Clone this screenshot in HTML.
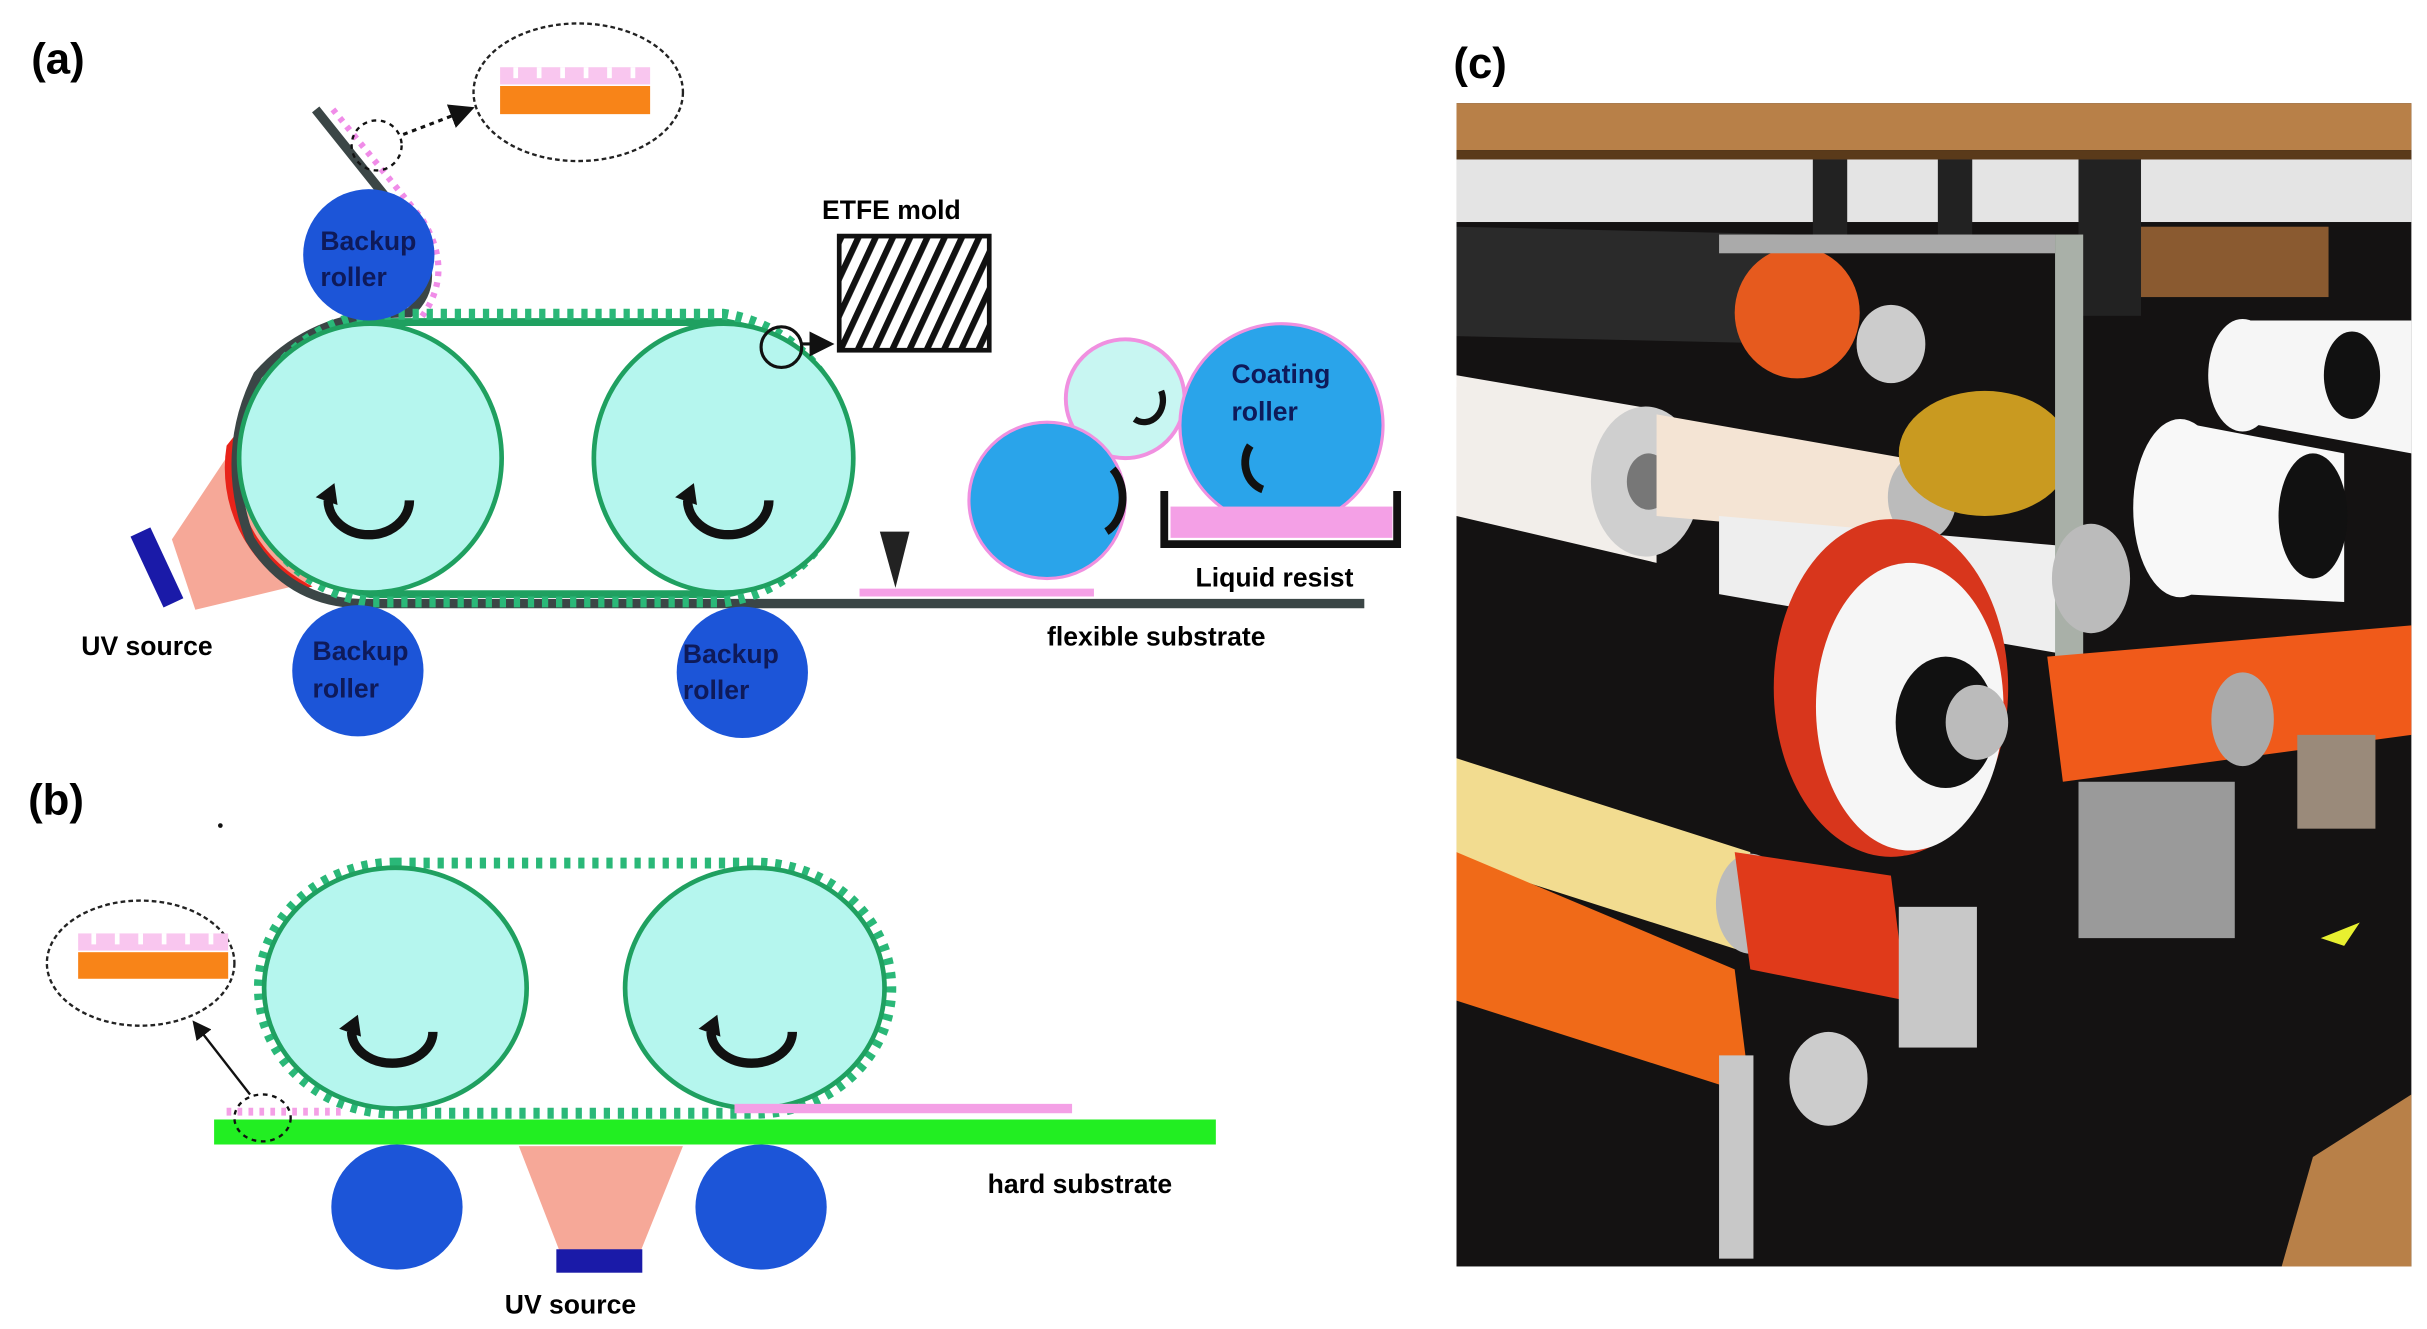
<!DOCTYPE html>
<html><head><meta charset="utf-8"><style>
html,body{margin:0;padding:0;background:#fff;}
svg{display:block;}
text{font-family:"Liberation Sans",sans-serif;font-weight:bold;}
</style></head><body>
<svg width="2427" height="1329" viewBox="0 0 1553 850" preserveAspectRatio="none" xmlns="http://www.w3.org/2000/svg">
<defs>
<pattern id="hatch" width="10" height="10" patternUnits="userSpaceOnUse" patternTransform="rotate(25)">
<rect width="10" height="10" fill="#fff"/><rect width="4" height="10" fill="#111"/></pattern>
<marker id="ah" markerWidth="8" markerHeight="8" refX="6" refY="4" orient="auto"><path d="M0,0 L8,4 L0,8 z" fill="#111"/></marker>
</defs>

<!-- (a) -->
<text x="20" y="47" font-size="28">(a)</text>
<polygon points="110,345 160,270 200,372 125,390" fill="#f6a898"/>
<path d="M153,275 A88,88 0 0 0 200,375 L190,378 A90,90 0 0 1 145,285 z" fill="#e8231a"/>
<rect x="-7" y="-24" width="14" height="50" fill="#1a1aa8" transform="translate(100,362) rotate(-25)"/>
<text x="52" y="419" font-size="17">UV source</text>

<path d="M202,70 L262,145 Q285,180 262,200 Q200,200 165,240 Q140,290 160,345 Q185,385 230,386 L873,386" fill="none" stroke="#3b4646" stroke-width="6"/>
<path d="M213,70 L270,140 Q292,175 268,205" fill="none" stroke="#f08ce8" stroke-width="4" stroke-dasharray="3,4"/>
<path d="M237,206 L463,206 A87,88 0 0 1 463,380 L237,380 A87,88 0 0 1 237,206 z" fill="none" stroke="#1fa060" stroke-width="5"/>
<path d="M237,201 L463,201 A93,93 0 0 1 463,385 L237,385 A93,93 0 0 1 237,201 z" fill="none" stroke="#2ab878" stroke-width="7" stroke-dasharray="4,5"/>
<ellipse cx="237" cy="293" rx="84" ry="86" fill="#b5f6ee" stroke="#1fa060" stroke-width="3"/>
<ellipse cx="463" cy="293" rx="83" ry="86" fill="#b5f6ee" stroke="#1fa060" stroke-width="3"/>
<path d="M210,320 A26,22 0 0 0 262,320" fill="none" stroke="#111" stroke-width="6"/>
<path d="M202,318 L214,309 L216,323 z" fill="#111"/>
<path d="M440,320 A26,22 0 0 0 492,320" fill="none" stroke="#111" stroke-width="6"/>
<path d="M432,318 L444,309 L446,323 z" fill="#111"/>
<line x1="550" y1="379" x2="700" y2="379" stroke="#f4a0e6" stroke-width="5"/>
<polygon points="563,340 582,340 573,376" fill="#222"/>
<circle cx="236" cy="163" r="42" fill="#1c55d8"/>
<circle cx="229" cy="429" r="42" fill="#1c55d8"/>
<circle cx="475" cy="430" r="42" fill="#1c55d8"/>
<g fill="#0e1a5a" font-size="17">
<text x="205" y="160">Backup</text><text x="205" y="183">roller</text>
<text x="200" y="422">Backup</text><text x="200" y="446">roller</text>
<text x="437" y="424">Backup</text><text x="437" y="447">roller</text>
</g>
<circle cx="241" cy="93" r="16" fill="none" stroke="#111" stroke-width="1.5" stroke-dasharray="3,3"/>
<line x1="258" y1="86" x2="300" y2="70" stroke="#111" stroke-width="2" stroke-dasharray="3,3" marker-end="url(#ah)"/>
<ellipse cx="370" cy="59" rx="67" ry="44" fill="#fff" stroke="#222" stroke-width="1.5" stroke-dasharray="3,2"/>
<rect x="320" y="43" width="96" height="11" fill="#f9c6ef"/>
<g stroke="#fff" stroke-width="3"><line x1="330" y1="43" x2="330" y2="50"/><line x1="345" y1="43" x2="345" y2="50"/><line x1="360" y1="43" x2="360" y2="50"/><line x1="375" y1="43" x2="375" y2="50"/><line x1="390" y1="43" x2="390" y2="50"/><line x1="405" y1="43" x2="405" y2="50"/></g>
<rect x="320" y="55" width="96" height="18" fill="#f88418"/>
<text x="526" y="140" font-size="17">ETFE mold</text>
<rect x="537" y="151" width="96" height="73" fill="url(#hatch)" stroke="#111" stroke-width="3"/>
<circle cx="500" cy="222" r="13" fill="none" stroke="#111" stroke-width="2"/>
<line x1="513" y1="220" x2="530" y2="220" stroke="#111" stroke-width="2" marker-end="url(#ah)"/>
<circle cx="720" cy="255" r="38" fill="#c8f6f2" stroke="#f090e0" stroke-width="2.5"/>
<circle cx="670" cy="320" r="50" fill="#2aa4ea" stroke="#f090e0" stroke-width="2"/>
<circle cx="820" cy="272" r="65" fill="#2aa4ea" stroke="#f090e0" stroke-width="2"/>
<path d="M743,250 A12,14 0 0 1 726,268" fill="none" stroke="#111" stroke-width="4"/>
<path d="M712,300 A18,24 0 0 1 708,340" fill="none" stroke="#111" stroke-width="5"/>
<path d="M800,285 A16,18 0 0 0 808,313" fill="none" stroke="#111" stroke-width="5"/>
<text x="788" y="245" font-size="17" fill="#0e1a5a">Coating</text>
<text x="788" y="269" font-size="17" fill="#0e1a5a">roller</text>
<rect x="749" y="324" width="142" height="20" fill="#f4a0e6"/>
<path d="M745,314 L745,348 L894,348 L894,314" fill="none" stroke="#111" stroke-width="5"/>
<text x="765" y="375" font-size="17">Liquid resist</text>
<text x="670" y="413" font-size="17">flexible substrate</text>

<!-- (b) -->
<text x="18" y="521" font-size="28">(b)</text>
<circle cx="141" cy="528" r="1.5" fill="#111"/>
<path d="M253,552 L483,552 A87,80 0 0 1 483,712 L253,712 A87,80 0 0 1 253,552 z" fill="none" stroke="#2ab878" stroke-width="7" stroke-dasharray="4,5"/>
<ellipse cx="253" cy="632" rx="84" ry="77" fill="#b5f6ee" stroke="#1fa060" stroke-width="3"/>
<ellipse cx="483" cy="632" rx="83" ry="77" fill="#b5f6ee" stroke="#1fa060" stroke-width="3"/>
<path d="M225,660 A26,20 0 0 0 277,660" fill="none" stroke="#111" stroke-width="6"/>
<path d="M217,658 L229,649 L231,663 z" fill="#111"/>
<path d="M455,660 A26,20 0 0 0 507,660" fill="none" stroke="#111" stroke-width="6"/>
<path d="M447,658 L459,649 L461,663 z" fill="#111"/>
<rect x="470" y="706" width="216" height="6" fill="#f4a0e6"/>
<line x1="145" y1="711" x2="220" y2="711" stroke="#f4a0e6" stroke-width="5" stroke-dasharray="3,4"/>
<rect x="137" y="716" width="641" height="16" fill="#22ee22"/>
<ellipse cx="254" cy="772" rx="42" ry="40" fill="#1c55d8"/>
<ellipse cx="487" cy="772" rx="42" ry="40" fill="#1c55d8"/>
<polygon points="332,733 437,733 410,800 358,800" fill="#f6a898"/>
<rect x="356" y="799" width="55" height="15" fill="#1a1aa8"/>
<text x="323" y="840" font-size="17">UV source</text>
<text x="632" y="763" font-size="17">hard substrate</text>
<ellipse cx="168" cy="715" rx="18" ry="15" fill="none" stroke="#111" stroke-width="1.5" stroke-dasharray="3,3"/>
<line x1="160" y1="700" x2="125" y2="655" stroke="#111" stroke-width="1.5" marker-end="url(#ah)"/>
<ellipse cx="90" cy="616" rx="60" ry="40" fill="#fff" stroke="#222" stroke-width="1.5" stroke-dasharray="3,2"/>
<rect x="50" y="597" width="96" height="11" fill="#f9c6ef"/>
<g stroke="#fff" stroke-width="3"><line x1="60" y1="597" x2="60" y2="604"/><line x1="75" y1="597" x2="75" y2="604"/><line x1="90" y1="597" x2="90" y2="604"/><line x1="105" y1="597" x2="105" y2="604"/><line x1="120" y1="597" x2="120" y2="604"/><line x1="135" y1="597" x2="135" y2="604"/></g>
<rect x="50" y="609" width="96" height="17" fill="#f88418"/>

<!-- (c) photo -->
<text x="930" y="50" font-size="28">(c)</text>
<rect x="932" y="66" width="611" height="744" fill="#141212"/>
<rect x="932" y="66" width="611" height="30" fill="#b88048"/>
<rect x="932" y="96" width="611" height="6" fill="#5a3a1a"/>
<rect x="932" y="102" width="611" height="40" fill="#e4e4e4"/>
<rect x="1160" y="102" width="22" height="60" fill="#222"/>
<rect x="1240" y="102" width="22" height="60" fill="#222"/>
<rect x="1330" y="102" width="40" height="100" fill="#222"/>
<rect x="1370" y="145" width="120" height="45" fill="#8a5a30"/>
<polygon points="932,145 1150,150 1150,220 932,215" fill="#2a2a2a"/>
<ellipse cx="1150" cy="200" rx="40" ry="42" fill="#e65a1e"/>
<rect x="1100" y="150" width="215" height="12" fill="#aaa"/>
<ellipse cx="1210" cy="220" rx="22" ry="25" fill="#ccc"/>
<polygon points="932,240 1060,262 1060,360 932,330" fill="#f2eeea"/>
<ellipse cx="1053" cy="308" rx="35" ry="48" fill="#cfcfcf"/>
<ellipse cx="1055" cy="308" rx="14" ry="18" fill="#777"/>
<polygon points="1060,265 1230,295 1230,345 1060,330" fill="#f4e4d4"/>
<ellipse cx="1230" cy="318" rx="22" ry="28" fill="#bbb"/>
<ellipse cx="1270" cy="290" rx="55" ry="40" fill="#c99a20"/>
<polygon points="1100,330 1330,350 1330,420 1100,380" fill="#eeeeee"/>
<rect x="1315" y="150" width="18" height="270" fill="#a9b0a8"/>
<ellipse cx="1338" cy="370" rx="25" ry="35" fill="#bbb"/>
<ellipse cx="1210" cy="440" rx="75" ry="108" fill="#d8361c"/>
<ellipse cx="1222" cy="452" rx="60" ry="92" fill="#f6f6f6"/>
<ellipse cx="1245" cy="462" rx="32" ry="42" fill="#111"/>
<ellipse cx="1265" cy="462" rx="20" ry="24" fill="#bbb"/>
<polygon points="1435,205 1543,205 1543,290 1435,270" fill="#f6f6f6"/>
<ellipse cx="1435" cy="240" rx="22" ry="36" fill="#f6f6f6"/>
<ellipse cx="1505" cy="240" rx="18" ry="28" fill="#111"/>
<polygon points="1395,270 1500,290 1500,385 1395,380" fill="#f8f8f8"/>
<ellipse cx="1395" cy="325" rx="30" ry="57" fill="#f8f8f8"/>
<ellipse cx="1480" cy="330" rx="22" ry="40" fill="#111"/>
<polygon points="1310,420 1543,400 1543,470 1320,500" fill="#f05a1a"/>
<ellipse cx="1435" cy="460" rx="20" ry="30" fill="#aaa"/>
<polygon points="932,485 1120,545 1120,610 932,550" fill="#f2dc90"/>
<ellipse cx="1120" cy="578" rx="22" ry="32" fill="#bbb"/>
<polygon points="932,545 1110,620 1120,700 932,640" fill="#f06a18"/>
<polygon points="1110,545 1210,560 1220,640 1120,620" fill="#e03a1a"/>
<ellipse cx="1170" cy="690" rx="25" ry="30" fill="#ccc"/>
<rect x="1100" y="675" width="22" height="130" fill="#c8c8c8"/>
<rect x="1215" y="580" width="50" height="90" fill="#c8c8c8"/>
<rect x="1330" y="500" width="100" height="100" fill="#9a9a9a"/>
<rect x="1470" y="470" width="50" height="60" fill="#9a8a7a"/>
<polygon points="1485,600 1510,590 1500,605" fill="#e8f030"/>
<polygon points="1480,740 1543,700 1543,810 1460,810" fill="#b88048"/>
</svg>
</body></html>
